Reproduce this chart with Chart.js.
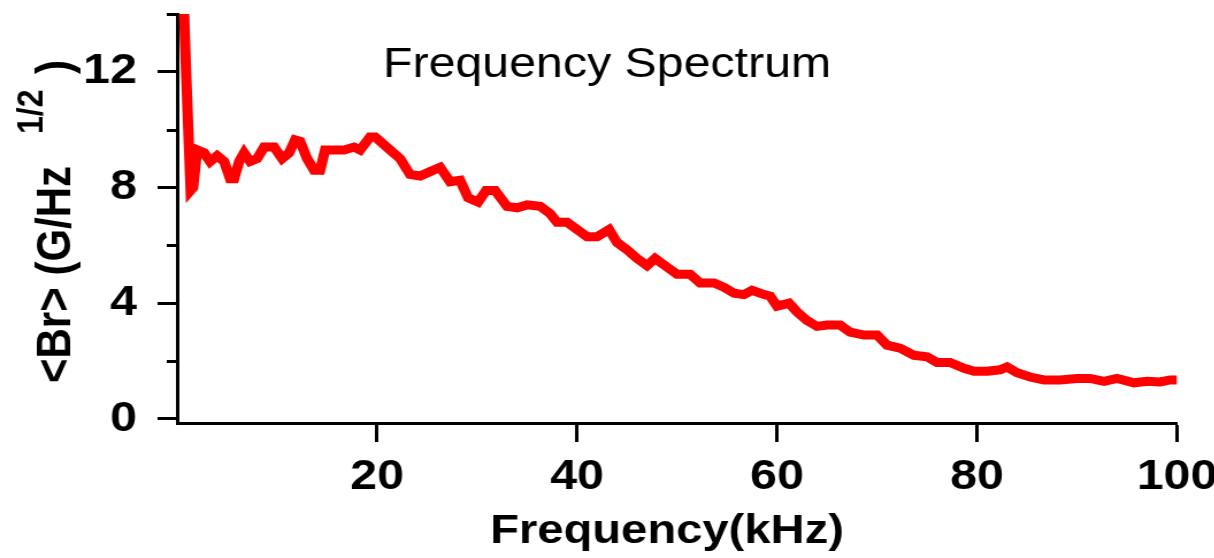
<!DOCTYPE html>
<html>
<head>
<meta charset="utf-8">
<script src="https://cdn.jsdelivr.net/npm/chart.js@4.4.1/dist/chart.umd.min.js"></script>
<style>
  html, body { margin: 0; padding: 0; background: #fff; overflow: hidden; }
  /* the figure is drawn narrow and widened horizontally */
  #chart { display: block; width: 1056px; height: 558px; transform: scaleX(1.15); transform-origin: 0 0; }
</style>
</head>
<body>
<canvas id="chart" width="1056" height="558"></canvas>
<script>
// frequency (kHz) and spectral amplitude <Br> (G/Hz^1/2)
const freq = [
    0.5, 0.9, 1.35, 1.6, 2.0, 2.7, 3.3, 4.0, 4.7, 5.3, 5.7, 6.2, 6.7, 7.3, 8.0, 8.7, 9.7,
    10.5, 11.2, 11.8, 12.3, 13.0, 13.7, 14.3, 14.8, 15.7, 16.7, 17.7, 18.3, 19.3, 19.8,
    20.3, 21.3, 22.3, 23.3, 24.3, 25.3, 26.3, 27.3, 28.3, 29.1, 30.1, 30.9, 31.8, 33.0,
    34.0, 35.0, 36.3, 37.3, 38.0, 39.0, 40.0, 41.0, 42.0, 43.2, 44.0, 45.0, 46.0, 47.0,
    47.8, 49.0, 50.0, 51.3, 52.3, 53.7, 54.7, 55.7, 56.7, 57.5, 58.7, 59.3, 60.0, 61.2,
    62.0, 63.0, 64.0, 65.0, 66.3, 67.3, 68.7, 70.0, 71.0, 72.3, 73.7, 75.0, 76.0, 77.3,
    78.7, 79.7, 81.0, 82.3, 83.0, 84.0, 85.3, 86.7, 88.3, 90.0, 91.3, 92.7, 94.0, 95.7,
    97.0, 98.3, 99.3, 100.0
];
const amp = [
    16.0, 12.0, 7.9, 8.0, 9.3, 9.2, 8.9, 9.1, 8.9, 8.3, 8.3, 8.9, 9.2, 8.9, 9.0, 9.4, 9.4,
    9.0, 9.2, 9.65, 9.6, 9.0, 8.6, 8.6, 9.3, 9.3, 9.3, 9.4, 9.3, 9.75, 9.75,
    9.6, 9.3, 9.0, 8.45, 8.4, 8.55, 8.7, 8.2, 8.25, 7.65, 7.5, 7.9, 7.9, 7.35,
    7.3, 7.4, 7.35, 7.1, 6.8, 6.8, 6.55, 6.3, 6.3, 6.55, 6.1, 5.85, 5.55, 5.3,
    5.55, 5.25, 5.0, 5.0, 4.7, 4.7, 4.55, 4.35, 4.3, 4.45, 4.3, 4.25, 3.9, 4.0,
    3.7, 3.4, 3.2, 3.25, 3.25, 3.0, 2.9, 2.9, 2.55, 2.45, 2.2, 2.15, 1.95, 1.95,
    1.75, 1.65, 1.65, 1.7, 1.8, 1.6, 1.45, 1.35, 1.35, 1.4, 1.4, 1.3, 1.4, 1.25,
    1.3, 1.28, 1.35, 1.35
];

const xTicks = [20, 40, 60, 80, 100];
const yTicks = [0, 4, 8, 12];
const yMinorTicks = [2, 6, 10, 14];

const chartTitle = "Frequency Spectrum";
const xTitle = "Frequency(kHz)";
const yTitle = "<Br> (G/Hz";
const yTitleSup = "1/2";
const yTitleClose = ")";

const FONT = "'Liberation Sans', Arial, sans-serif";

// minor ticks, the titles and the y label with its exponent
const extrasPlugin = {
    id: "extras",
    afterDraw(chart) {
        const ctx = chart.ctx;
        const y = chart.scales.y;
        const area = chart.chartArea;

        ctx.save();
        ctx.strokeStyle = "#000";
        ctx.lineWidth = 3;
        yMinorTicks.forEach(v => {
            const py = Math.round(y.getPixelForValue(v)) + 0.5;
            ctx.beginPath();
            ctx.moveTo(area.left - 9, py);
            ctx.lineTo(area.left, py);
            ctx.stroke();
        });

        ctx.fillStyle = "#000";
        ctx.textBaseline = "alphabetic";
        ctx.textAlign = "left";
        ctx.font = "42px " + FONT;
        ctx.fillText(chartTitle, 333, 77);

        ctx.font = "bold 41px " + FONT;
        ctx.textAlign = "center";
        ctx.fillText(xTitle, 580, 543);

        ctx.textAlign = "left";
        const rotated = (text, font, bx, by) => {
            ctx.save();
            ctx.translate(bx, by);
            ctx.rotate(-Math.PI / 2);
            ctx.font = font;
            ctx.fillText(text, 0, 0);
            ctx.restore();
        };
        rotated(yTitle, "bold 42px " + FONT, 61, 383);
        rotated(yTitleSup, "bold 32px " + FONT, 37, 134);
        rotated(yTitleClose, "bold 42px " + FONT, 61, 74);
        ctx.restore();
    }
};

new Chart(document.getElementById("chart"), {
    type: "line",
    data: {
        datasets: [{
            data: freq.map((f, i) => ({ x: f, y: amp[i] })),
            borderColor: "#ff0000",
            borderWidth: 9,
            borderJoinStyle: "miter",
            pointRadius: 0,
            tension: 0,
            fill: false
        }]
    },
    options: {
        responsive: false,
        devicePixelRatio: 1,
        animation: false,
        layout: { padding: { top: 14, right: 32.5, left: 0, bottom: 0 } },
        plugins: {
            legend: { display: false },
            tooltip: { enabled: false },
            title: { display: false }
        },
        scales: {
            x: {
                type: "linear",
                min: 0,
                max: 100,
                afterBuildTicks: s => { s.ticks = xTicks.map(v => ({ value: v })); },
                afterFit: s => { s.height = 135; s.paddingLeft = 0; s.paddingRight = 0; },
                grid: { drawOnChartArea: false, tickLength: 19, tickWidth: 3, tickColor: "#000" },
                border: { display: true, color: "#000", width: 3 },
                ticks: {
                    color: "#000",
                    font: { family: FONT, size: 42, weight: "bold" },
                    padding: 10,
                    maxRotation: 0,
                    autoSkip: false
                }
            },
            y: {
                min: -0.14,
                max: 14,
                afterBuildTicks: s => { s.ticks = yTicks.map(v => ({ value: v })); },
                afterFit: s => { s.width = 154; s.paddingTop = 0; s.paddingBottom = 0; },
                grid: { drawOnChartArea: false, tickLength: 17, tickWidth: 3, tickColor: "#000" },
                border: { display: true, color: "#000", width: 3 },
                ticks: {
                    color: "#000",
                    font: { family: FONT, size: 42, weight: "bold" },
                    padding: 18,
                    autoSkip: false
                }
            }
        }
    },
    plugins: [extrasPlugin]
});
</script>
</body>
</html>
